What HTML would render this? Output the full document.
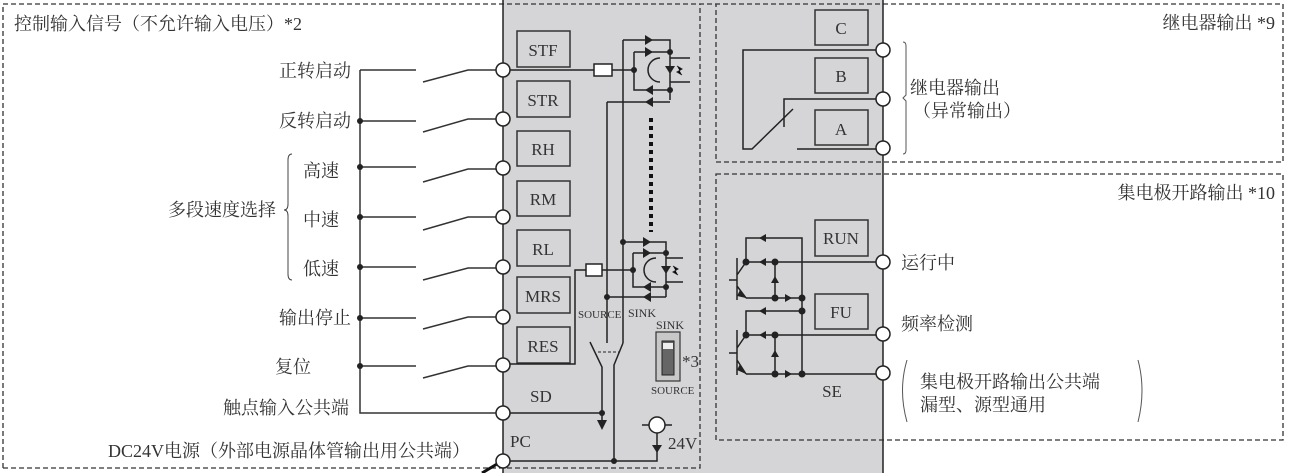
<!DOCTYPE html>
<html><head><meta charset="utf-8"><style>
html,body{margin:0;padding:0;background:#fff;}
svg{display:block;}
text{font-family:"Liberation Serif","Noto Serif CJK SC",serif;fill:#333;}
.c{font-size:18px;}
</style></head><body>
<svg width="1291" height="473" viewBox="0 0 1291 473" xmlns="http://www.w3.org/2000/svg">
<rect x="503" y="0" width="380" height="473" fill="#d5d5d7"/>
<g fill="none" stroke="#333" stroke-width="1.3" stroke-dasharray="5,3">
<path d="M3 468 V4 H1283 V162 H716 V4"/>
<path d="M3 468 H700 V4"/>
<path d="M716 174 H1283 V440 H716 Z"/>
</g>
<line x1="503" y1="0" x2="503" y2="473" stroke="#222" stroke-width="1.5"/>
<line x1="883" y1="0" x2="883" y2="473" stroke="#222" stroke-width="1.5"/>

<!-- left labels -->
<text class="c" x="14" y="30">控制输入信号（不允许输入电压）*2</text>
<g class="c" text-anchor="end">
<text x="351" y="77">正转启动</text>
<text x="351" y="127">反转启动</text>
<text x="339" y="177">高速</text>
<text x="339" y="226">中速</text>
<text x="339" y="275">低速</text>
<text x="351" y="324">输出停止</text>
<text x="311" y="373">复位</text>
<text x="349" y="414">触点输入公共端</text>
<text x="276" y="216">多段速度选择</text>
<text x="470" y="457">DC24V电源（外部电源晶体管输出用公共端）</text>
</g>
<path d="M292 154 Q288 154 288 160 V204 Q288 210 284 210 Q288 210 288 216 V274 Q288 280 292 280" fill="none" stroke="#444" stroke-width="1"/>
<g stroke="#333" stroke-width="1.5" fill="none">
<path d="M360 70 V413 H497"/>
<path d="M360 70 H416 M423 82 L468 70 H497"/>
<path d="M360 121 H416 M423 132 L468 119 H497"/>
<path d="M360 167 H416 M423 182 L468 169 H497"/>
<path d="M360 217 H416 M423 230 L468 217 H497"/>
<path d="M360 267 H416 M423 280 L468 268 H497"/>
<path d="M360 318 H416 M423 329 L468 317 H497"/>
<path d="M360 366 H416 M423 378 L468 366 H497"/>
</g>
<g fill="#222"><circle cx="360" cy="121" r="3"/><circle cx="360" cy="167" r="3"/><circle cx="360" cy="217" r="3"/><circle cx="360" cy="267" r="3"/><circle cx="360" cy="318" r="3"/><circle cx="360" cy="366" r="3"/></g>
<line x1="497" y1="464" x2="482" y2="473" stroke="#111" stroke-width="3"/>

<!-- input panel boxes -->
<g fill="none" stroke="#333" stroke-width="1.5">
<rect x="517" y="31" width="53" height="36"/><rect x="517" y="81" width="53" height="36"/>
<rect x="517" y="131" width="53" height="35"/><rect x="517" y="181" width="53" height="35"/>
<rect x="517" y="230" width="53" height="36"/><rect x="517" y="277" width="53" height="36"/>
<rect x="517" y="327" width="53" height="36"/>
</g>
<g font-size="17" text-anchor="middle">
<text x="543" y="56">STF</text><text x="543" y="106">STR</text><text x="543" y="155">RH</text>
<text x="543" y="205">RM</text><text x="543" y="255">RL</text><text x="543" y="302">MRS</text><text x="543" y="352">RES</text>
</g>
<text font-size="17" x="530" y="402">SD</text>
<text font-size="17" x="510" y="447">PC</text>
<text font-size="17" x="668" y="449">24V</text>
<text font-size="11" x="578" y="318">SOURCE</text>
<text font-size="12" x="628" y="317">SINK</text>
<text font-size="12" x="656" y="329">SINK</text>
<text font-size="11" x="651" y="394">SOURCE</text>
<text font-size="17" x="682" y="367">*3</text>

<!-- input circuitry -->
<g stroke="#222" stroke-width="1.5" fill="none">
<path d="M510 70 H594 M612 70 H634"/>
<path d="M623 40 H670 V100 M634 52 H670 M634 52 V90 H670 M607 102 H670"/>
<path d="M623 40 V343 M607 102 V343"/>
<path d="M660 82 A12 12 0 0 1 660 58 M670 58 H690 M670 82 H690"/>
<path d="M510 364 H575 V270 H586 M602 270 H633"/>
<path d="M623 242 H666 V297 M633 253 H666 M633 253 V287 H666 M607 297 H666"/>
<path d="M656 282 A12 12 0 0 1 656 258 M666 258 H683 M666 282 H683"/>
<path d="M590 342 L602 367 V420 M623 343 L614 365 V461"/>
<path d="M510 413 H602 M510 461 H657 V433"/>
<path d="M642 425 H672"/>
</g>
<path d="M598 352 H620" stroke="#222" stroke-width="1" stroke-dasharray="3,2"/>
<rect x="594" y="64" width="18" height="12" fill="#fff" stroke="#222" stroke-width="1.5"/>
<rect x="586" y="264" width="16" height="12" fill="#fff" stroke="#222" stroke-width="1.5"/>
<line x1="651" y1="118" x2="651" y2="232" stroke="#111" stroke-width="4" stroke-dasharray="4,4"/>
<g fill="#222">
<circle cx="670" cy="52" r="3"/><circle cx="670" cy="90" r="3"/><circle cx="634" cy="70" r="3"/>
<circle cx="623" cy="242" r="3"/><circle cx="666" cy="253" r="3"/><circle cx="666" cy="287" r="3"/><circle cx="633" cy="270" r="3"/><circle cx="607" cy="297" r="3"/>
<circle cx="602" cy="413" r="3"/><circle cx="614" cy="461" r="3"/>
<path d="M645 35 L653 40 L645 45Z M645 47 L653 52 L645 57Z M653 85 L645 90 L653 95Z M653 97 L645 102 L653 107Z"/>
<path d="M643 237 L651 242 L643 247Z M643 248 L651 253 L643 258Z M651 282 L643 287 L651 292Z M651 292 L643 297 L651 302Z"/>
<path d="M665 66 L675 66 L670 74Z M661 266 L671 266 L666 274Z"/>
<path d="M597 420 L607 420 L602 430Z M652 445 L662 445 L657 453Z"/>
</g>
<circle cx="657" cy="425" r="8" fill="#fff" stroke="#222" stroke-width="1.5"/>
<g stroke="#222" stroke-width="1"><path d="M677 66 l5 3 -5 3 5 3"/><path d="M673 266 l5 3 -5 3 5 3"/></g>
<rect x="656" y="332" width="24" height="49" fill="#c8c8c8" stroke="#333" stroke-width="1.2"/>
<rect x="662" y="341" width="12" height="34" fill="#666" stroke="#222"/>
<rect x="663" y="343" width="10" height="6" fill="#eee"/>

<!-- relay -->
<g fill="none" stroke="#333" stroke-width="1.5">
<rect x="815" y="10" width="53" height="35"/><rect x="815" y="58" width="53" height="35"/><rect x="815" y="110" width="53" height="35"/>
<rect x="815" y="220" width="53" height="36"/><rect x="815" y="294" width="53" height="35"/>
</g>
<g font-size="17" text-anchor="middle">
<text x="841" y="34">C</text><text x="841" y="82">B</text><text x="841" y="135">A</text>
<text x="841" y="244">RUN</text><text x="841" y="318">FU</text><text x="832" y="397">SE</text>
</g>
<g stroke="#222" stroke-width="1.5" fill="none">
<path d="M877 50 H743 V149 H752 L793 109"/>
<path d="M877 99 H784 V127"/>
<path d="M797 149 H877"/>
</g>
<!-- open collector -->
<g stroke="#222" stroke-width="1.5" fill="none">
<path d="M746 262 V238 H802 V374"/>
<path d="M746 262 H877 M775 262 V298 M746 298 H802"/>
<path d="M737 258 V300 M729 280 H737 M737 275 L746 262 M737 286 L746 298"/>
<path d="M746 335 V311 H802 M746 335 H877 M775 335 V374 M746 374 H877"/>
<path d="M737 330 V375 M729 353 H737 M737 348 L746 335 M737 360 L746 374"/>
</g>
<g fill="#222">
<circle cx="746" cy="262" r="3.5"/><circle cx="775" cy="262" r="3.5"/><circle cx="775" cy="298" r="3.5"/><circle cx="802" cy="298" r="3.5"/><circle cx="802" cy="311" r="3.5"/>
<circle cx="746" cy="335" r="3.5"/><circle cx="775" cy="335" r="3.5"/><circle cx="775" cy="374" r="3.5"/><circle cx="802" cy="374" r="3.5"/>
<path d="M766 234 L759 238 L766 242Z M766 258 L759 262 L766 266Z M771 283 L779 283 L775 276Z M785 294 L792 298 L785 302Z"/>
<path d="M766 307 L759 311 L766 315Z M766 331 L759 335 L766 339Z M771 357 L779 357 L775 350Z M785 370 L792 374 L785 378Z"/>
<path d="M740 290 L746 298 L737 296Z M740 364 L746 374 L737 370Z"/>
</g>
<text class="c" x="1275" y="29" text-anchor="end">继电器输出 *9</text>
<text class="c" x="1275" y="199" text-anchor="end">集电极开路输出 *10</text>
<text class="c" x="910" y="94">继电器输出</text>
<text class="c" x="913" y="117">（异常输出）</text>
<path d="M903 42 Q906 42 906 46 V95 L903 98 L906 101 V150 Q906 154 903 154" fill="none" stroke="#555" stroke-width="1"/>
<text class="c" x="901" y="269">运行中</text>
<text class="c" x="901" y="330">频率检测</text>
<text class="c" x="920" y="388">集电极开路输出公共端</text>
<text class="c" x="920" y="411">漏型、源型通用</text>
<path d="M907 360 Q898 390 907 422 M1138 360 Q1146 390 1138 422" fill="none" stroke="#555" stroke-width="1"/>

<!-- terminals -->
<g fill="#fff" stroke="#222" stroke-width="1.5">
<circle cx="503" cy="70" r="7"/><circle cx="503" cy="119" r="7"/><circle cx="503" cy="168" r="7"/>
<circle cx="503" cy="217" r="7"/><circle cx="503" cy="267" r="7"/><circle cx="503" cy="317" r="7"/>
<circle cx="503" cy="365" r="7"/><circle cx="503" cy="413" r="7"/><circle cx="503" cy="461" r="7"/>
<circle cx="883" cy="50" r="7"/><circle cx="883" cy="99" r="7"/><circle cx="883" cy="148" r="7"/>
<circle cx="883" cy="262" r="7"/><circle cx="883" cy="334" r="7"/><circle cx="883" cy="373" r="7"/>
</g>
</svg>
</body></html>
